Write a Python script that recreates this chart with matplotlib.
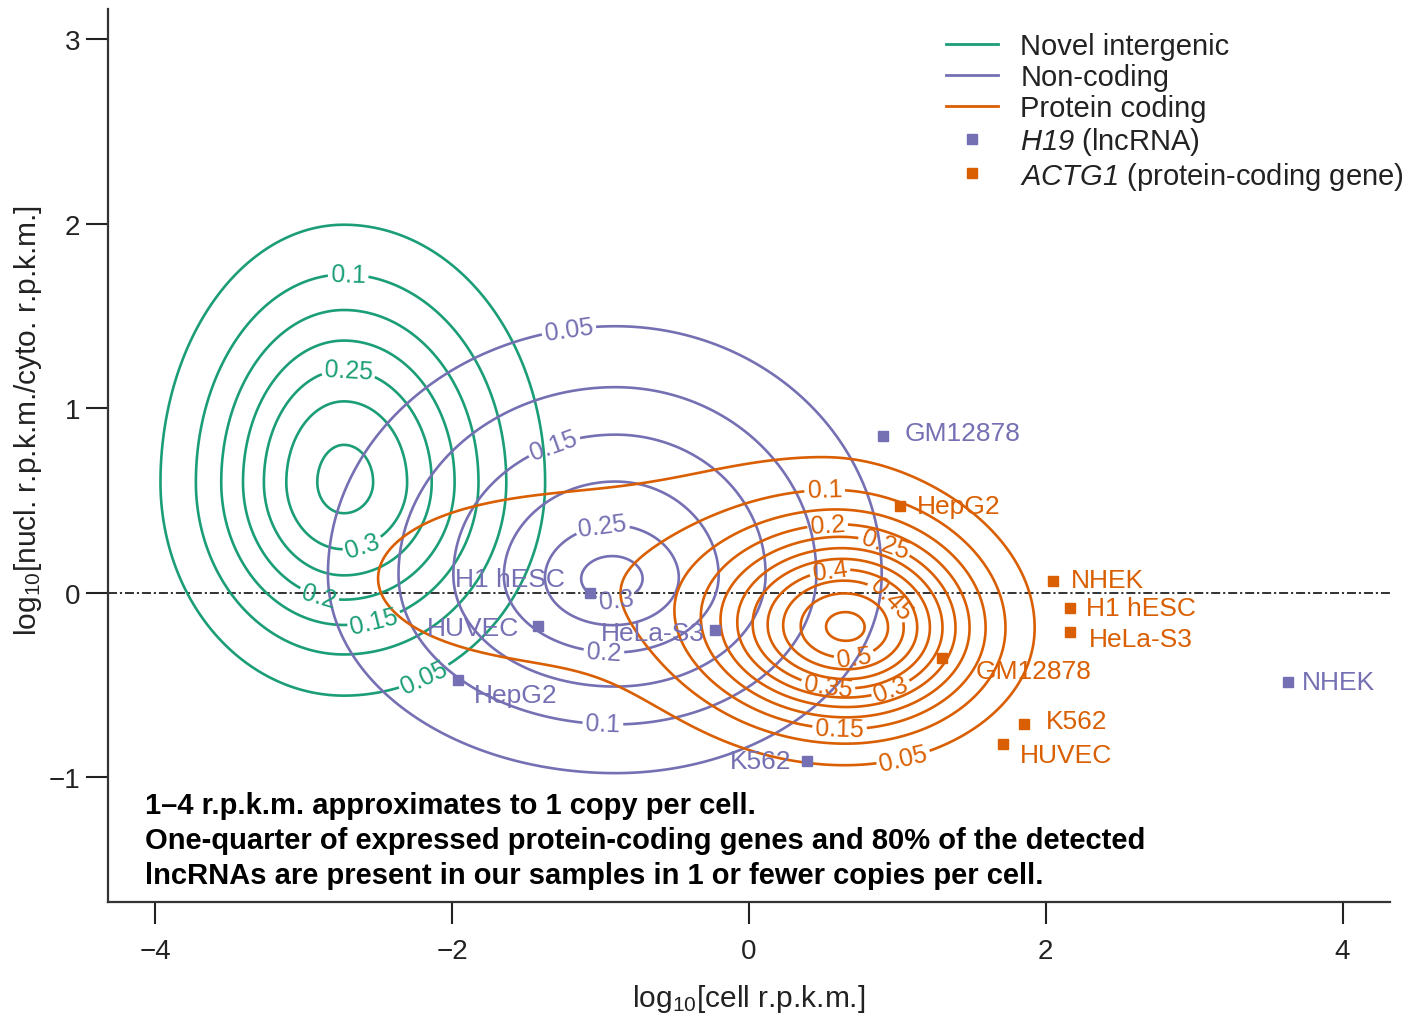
import numpy as np
import matplotlib
matplotlib.use('Agg')
import matplotlib.pyplot as plt
from matplotlib.lines import Line2D

# ── Style ───────────────────────────────────────────────────
GREEN  = '#1b9e77'
PURPLE = '#7570b3'
ORANGE = '#d95f02'
INK    = '#222222'
FONT   = 'Liberation Sans'

plt.rcParams['font.family'] = [FONT, 'DejaVu Sans']
plt.rcParams['mathtext.fontset'] = 'custom'
plt.rcParams['mathtext.rm'] = FONT
plt.rcParams['mathtext.sf'] = FONT + ':italic'   # used for the italic gene names
plt.rcParams['mathtext.default'] = 'regular'

# ── Density model ───────────────────────────────────────────
# one entry per bump: centre, spread left/right/down/up, height
# novel intergenic
NOVEL_CX  = [-2.73]
NOVEL_CY  = [0.60]
NOVEL_SXL = [0.62]
NOVEL_SXR = [0.68]
NOVEL_SYD = [0.58]
NOVEL_SYU = [0.70]
NOVEL_AMP = [0.365]
NOVEL_LEVELS = [0.05, 0.10, 0.15, 0.20, 0.25, 0.30, 0.35]
NOVEL_LABELS = {0.1: (-2.70, 1.75), 0.25: (-2.70, 1.19), 0.3: (-2.61, 0.27),
                0.2: (-2.91, -0.05), 0.15: (-2.52, -0.17), 0.05: (-2.14, -0.54)}

# non-coding
NONC_CX  = [-0.93, -0.90]
NONC_CY  = [0.07, 0.10]
NONC_SXL = [0.30, 1.08]
NONC_SXR = [0.30, 1.00]
NONC_SYD = [0.17, 0.60]
NONC_SYU = [0.17, 0.75]
NONC_AMP = [0.07, 0.25]
NONC_LEVELS = [0.05, 0.10, 0.15, 0.20, 0.25, 0.30]
NONC_LABELS = {0.05: (-1.22, 1.46), 0.15: (-1.32, 0.81), 0.25: (-0.99, 0.38),
               0.3: (-0.89, -0.06), 0.2: (-0.98, -0.34), 0.1: (-0.98, -0.61)}

# protein coding
PROT_CX  = [0.68, 0.50, -1.50]
PROT_CY  = [-0.20, 0.00, 0.08]
PROT_SXL = [0.60, 1.00, 1.15]
PROT_SXR = [0.57, 0.60, 1.15]
PROT_SYD = [0.33, 0.45, 0.45]
PROT_SYU = [0.36, 0.60, 0.45]
PROT_AMP = [0.50, 0.06, 0.072]
PROT_LEVELS = [0.05, 0.10, 0.15, 0.20, 0.25, 0.30, 0.35, 0.40, 0.45, 0.50, 0.55]
PROT_LABELS = {0.1: (0.51, 0.56), 0.2: (0.53, 0.36), 0.25: (0.88, 0.18),
               0.4: (0.55, 0.09), 0.45: (0.92, -0.06), 0.5: (0.70, -0.30),
               0.35: (0.53, -0.52), 0.3: (0.98, -0.57), 0.15: (0.61, -0.74),
               0.05: (1.05, -0.93)}

# H19 (lncRNA) and ACTG1 per cell line
H19_CELLS = ['NHEK', 'GM12878', 'H1 hESC', 'HUVEC', 'HeLa-S3', 'HepG2', 'K562']
H19_X     = [3.63, 0.90, -1.07, -1.42, -0.23, -1.96, 0.39]
H19_Y     = [-0.48, 0.85, 0.00, -0.18, -0.20, -0.47, -0.91]
ACTG1_CELLS = ['HepG2', 'NHEK', 'H1 hESC', 'HeLa-S3', 'GM12878', 'K562', 'HUVEC']
ACTG1_X     = [1.02, 2.05, 2.16, 2.16, 1.30, 1.85, 1.71]
ACTG1_Y     = [0.47, 0.065, -0.08, -0.21, -0.35, -0.71, -0.82]

# text offsets (points) and alignment for the cell-line labels
H19_OFFS = [(10, 0, 'left'), (16, 2, 'left'), (-18, 10, 'right'), (-14, -1, 'right'),
            (-7, -2, 'right'), (11, -11, 'left'), (-11, 0, 'right')]
ACTG1_OFFS = [(12, 0, 'left'), (13, 1, 'left'), (12, 0, 'left'), (14, -5, 'left'),
              (24, -10, 'left'), (16, 2, 'left'), (12, -8, 'left')]

NOTE = ('1–4 r.p.k.m. approximates to 1 copy per cell.\n'
        'One-quarter of expressed protein-coding genes and 80% of the detected\n'
        'lncRNAs are present in our samples in 1 or fewer copies per cell.')


def density(X, Y, cx, cy, sxl, sxr, syd, syu, amp):
    Z = np.zeros_like(X)
    for x0, y0, a1, a2, b1, b2, h in zip(cx, cy, sxl, sxr, syd, syu, amp):
        sx = np.where(X < x0, a1, a2)
        sy = np.where(Y < y0, b1, b2)
        Z += h * np.exp(-0.5 * (((X - x0) / sx) ** 2 + ((Y - y0) / sy) ** 2))
    return Z


def fmt(v):
    return f'{v:g}'


fig = plt.figure(figsize=(14.23, 10.2), dpi=100)
ax = fig.add_axes([108 / 1423, 1 - 903 / 1020, 1282 / 1423, 893 / 1020])

xs = np.linspace(-4.32, 4.32, 520)
ys = np.linspace(-1.675, 3.165, 420)
X, Y = np.meshgrid(xs, ys)

ax.axhline(0, color=INK, lw=1.3, ls=(0, (5, 1.6, 1.2, 1.6)), zorder=1)

groups = [
    (density(X, Y, NOVEL_CX, NOVEL_CY, NOVEL_SXL, NOVEL_SXR, NOVEL_SYD, NOVEL_SYU, NOVEL_AMP),
     NOVEL_LEVELS, NOVEL_LABELS, GREEN),
    (density(X, Y, NONC_CX, NONC_CY, NONC_SXL, NONC_SXR, NONC_SYD, NONC_SYU, NONC_AMP),
     NONC_LEVELS, NONC_LABELS, PURPLE),
    (density(X, Y, PROT_CX, PROT_CY, PROT_SXL, PROT_SXR, PROT_SYD, PROT_SYU, PROT_AMP),
     PROT_LEVELS, PROT_LABELS, ORANGE),
]
for Z, levels, labels, col in groups:
    # one contour set per level so each label lands on its own ring
    for lv in levels:
        cs = ax.contour(X, Y, Z, levels=[lv], colors=col, linewidths=1.9, zorder=2)
        if lv in labels:
            ax.clabel(cs, manual=[labels[lv]], fmt=fmt, fontsize=18,
                      inline=True, inline_spacing=3)

for cells, xv, yv, offs, col in [(H19_CELLS, H19_X, H19_Y, H19_OFFS, PURPLE),
                                 (ACTG1_CELLS, ACTG1_X, ACTG1_Y, ACTG1_OFFS, ORANGE)]:
    ax.plot(xv, yv, 's', color=col, ms=7, zorder=4, linestyle='none')
    for name, x, y, (dx, dy, ha) in zip(cells, xv, yv, offs):
        ax.annotate(name, (x, y), xytext=(dx, dy), textcoords='offset points',
                    ha=ha, va='center', color=col, fontsize=19, zorder=5)

ax.set_xlim(-4.32, 4.32)
ax.set_ylim(-1.675, 3.165)
ax.set_xticks([-4, -2, 0, 2, 4])
ax.set_yticks([-1, 0, 1, 2, 3])
ax.set_xticklabels(['\u22124', '\u22122', '0', '2', '4'])
ax.set_yticklabels(['\u22121', '0', '1', '2', '3'])
ax.tick_params(direction='out', length=16, width=1.5, labelsize=20, colors=INK)
ax.tick_params(axis='x', pad=10)
ax.tick_params(axis='y', pad=4)
for side in ['top', 'right']:
    ax.spines[side].set_visible(False)
for side in ['left', 'bottom']:
    ax.spines[side].set_linewidth(1.6)
    ax.spines[side].set_color('#333333')

ax.set_xlabel(r'log$_{10}$[cell r.p.k.m.]', fontsize=21.5, color=INK, labelpad=13)
ax.set_ylabel(r'log$_{10}$[nucl. r.p.k.m./cyto. r.p.k.m.]', fontsize=21.5, color=INK)
ax.yaxis.set_label_coords(-0.050, 0.54)

fig.text(145 / 1423, 1 - 792 / 1020, NOTE, ha='left', va='top', fontsize=21,
         fontweight='bold', linespacing=1.31, color='black')

handles = [
    Line2D([], [], color=GREEN, lw=2),
    Line2D([], [], color=PURPLE, lw=2),
    Line2D([], [], color=ORANGE, lw=2),
    Line2D([], [], color=PURPLE, marker='s', ms=7, linestyle='none'),
    Line2D([], [], color=ORANGE, marker='s', ms=7, linestyle='none'),
]
names = ['Novel intergenic', 'Non-coding', 'Protein coding',
         r'$\mathsf{H19}$ (lncRNA)', r'$\mathsf{ACTG1}$ (protein-coding gene)']
fig.legend(handles, names, loc='upper left', bbox_to_anchor=(946 / 1423, 1 - 33 / 1020),
           frameon=False, fontsize=21, labelspacing=0.1, handlelength=1.8,
           handletextpad=0.75, borderpad=0, borderaxespad=0, labelcolor=INK)

fig.savefig('out.png', dpi=100, facecolor='white')
